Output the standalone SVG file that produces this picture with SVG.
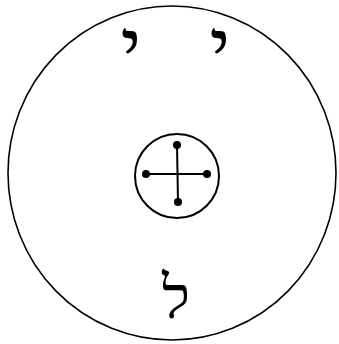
<svg xmlns="http://www.w3.org/2000/svg" width="339" height="344" viewBox="0 0 339 344">
<style>
.ln{fill:none;stroke:#000;stroke-width:2}
.thin{fill:none;stroke:#000;stroke-width:1.6}
.dot{fill:#000}
.heb{font-family:"Liberation Serif","DejaVu Serif",serif;fill:#000}
</style>
<rect width="339" height="344" fill="#fff"/>
<g id="outer"><ellipse class="thin" cx="172" cy="173" rx="164" ry="167"/></g>
<g id="center">
<circle class="ln" cx="177" cy="176" r="42"/>
<g id="cross">
<line class="ln" x1="177" y1="145" x2="178" y2="202"/>
<line class="ln" x1="146" y1="174" x2="207" y2="174"/>
<circle class="dot" cx="177" cy="145" r="4"/>
<circle class="dot" cx="146" cy="174" r="4"/>
<circle class="dot" cx="207" cy="174" r="4"/>
<circle class="dot" cx="178" cy="202" r="4"/>
</g>
</g>
<g id="yod1"><text class="heb" x="131" y="75" font-size="80" text-anchor="middle">י</text></g>
<g id="yod2"><text class="heb" x="220" y="75" font-size="80" text-anchor="middle">י</text></g>
<g id="lamed"><text class="heb" x="176" y="318" font-size="60" text-anchor="middle">ל</text></g>
</svg>
